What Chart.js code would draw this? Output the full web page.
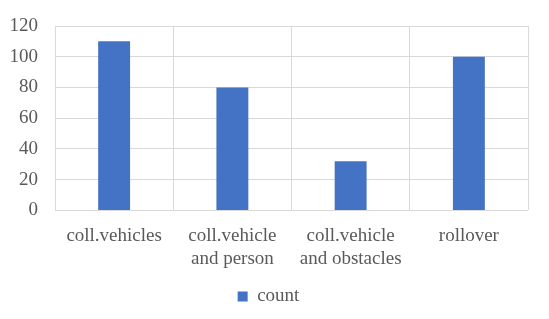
<!DOCTYPE html>
<html>
<head>
<meta charset="utf-8">
<script src="https://cdn.jsdelivr.net/npm/chart.js@4.4.1/dist/chart.umd.min.js"></script>
<style>
  html, body { margin: 0; padding: 0; background: #fff; }
  #wrap { width: 549px; height: 319px; }
</style>
</head>
<body>
<div id="wrap"><canvas id="myChart"></canvas></div>
<script>
// chart data
let categories = [
  "coll.vehicles",
  ["coll.vehicle", "and person"],
  ["coll.vehicle", "and obstacles"],
  "rollover"
];
let counts = [110, 80, 32, 100];
let seriesName = "count";
let yTicks = [0, 20, 40, 60, 80, 100, 120];

let textColor = "#595959";
let gridColor = "#d9d9d9";
let font = { family: "'Liberation Serif', 'Times New Roman', serif", size: 19, lineHeight: 1.2 };

let ctx = document.getElementById("myChart").getContext("2d");

let myChart = new Chart(ctx, {
  type: "bar",
  data: {
    labels: categories,
    datasets: [
      {
        label: seriesName,
        data: counts,
        backgroundColor: "#4472C4",
        borderWidth: 0,
        categoryPercentage: 1,
        barPercentage: 0.27,
      },
    ],
  },
  options: {
    responsive: true,
    maintainAspectRatio: false,
    animation: false,
    layout: {
      padding: { left: 9, right: 21, top: 26, bottom: 3 },
    },
    plugins: {
      tooltip: { enabled: false },
      legend: {
        position: "bottom",
        labels: {
          color: textColor,
          font: font,
          boxWidth: 10,
          boxHeight: 10,
          padding: 3,
        },
      },
    },
    scales: {
      x: {
        grid: { color: gridColor, drawTicks: false, offset: true },
        border: { display: false },
        ticks: { color: textColor, font: font, padding: 14, maxRotation: 0 },
      },
      y: {
        min: 0,
        max: 120,
        afterBuildTicks: (axis) => {
          axis.ticks = yTicks.map((v) => ({ value: v }));
        },
        afterFit: (axis) => {
          axis.width = 46;
          axis.paddingTop = 0;
          axis.paddingBottom = 0;
        },
        grid: { color: gridColor, drawTicks: false },
        border: { display: false },
        ticks: { color: textColor, font: font, padding: 17 },
      },
    },
  },
});
</script>
</body>
</html>
